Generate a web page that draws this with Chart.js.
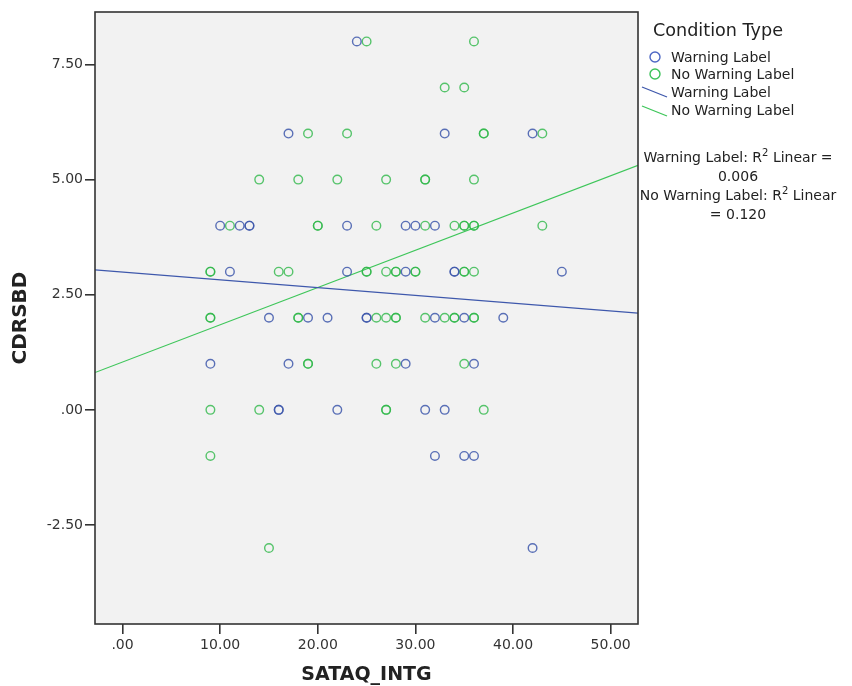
<!DOCTYPE html>
<html>
<head>
<meta charset="utf-8">
<script src="https://cdn.jsdelivr.net/npm/chart.js@4"></script>
<style>
  body { margin: 0; background: #fff; }
  #wrap { position: relative; width: 852px; height: 686px; font-family: "DejaVu Sans", sans-serif; color: #222; }
  .lg { position: absolute; white-space: nowrap; font-size: 14px; line-height: 16px; }
  .r2 { position: absolute; left: 618px; width: 240px; text-align: center; font-size: 14px; line-height: 19px; white-space: nowrap; }
  .r2 sup { font-size: 10px; line-height: 0; }
</style>
</head>
<body>
<div id="wrap">
  <canvas id="scatterChart" width="852" height="686"></canvas>

  <div class="lg" style="left:653px; top:20px; font-size:17.6px; line-height:20px;">Condition Type</div>
  <svg style="position:absolute; left:640px; top:48px;" width="30" height="76">
    <circle cx="15" cy="9" r="5" fill="none" stroke="#4d67c4" stroke-width="1.4"/>
    <circle cx="15" cy="26" r="5" fill="none" stroke="#3dc25a" stroke-width="1.4"/>
    <line x1="2" y1="39" x2="27" y2="49" stroke="#3e58ac" stroke-width="1.2"/>
    <line x1="2" y1="58" x2="27" y2="68" stroke="#3ec65a" stroke-width="1.2"/>
  </svg>
  <div class="lg" style="left:671px; top:49px;">Warning Label</div>
  <div class="lg" style="left:671px; top:66px;">No Warning Label</div>
  <div class="lg" style="left:671px; top:84px;">Warning Label</div>
  <div class="lg" style="left:671px; top:102px;">No Warning Label</div>

  <div class="r2" style="top:148px;">Warning Label: R<sup>2</sup> Linear =</div>
  <div class="r2" style="top:167px;">0.006</div>
  <div class="r2" style="top:186px;">No Warning Label: R<sup>2</sup> Linear</div>
  <div class="r2" style="top:205px;">= 0.120</div>
</div>

<script>
// Dữ liệu: Warning Label (xanh dương)
const warnX = [24, 17, 33, 42, 10, 12, 13, 13, 23, 29, 30, 32,
  11, 23, 29, 34, 34, 45, 15, 19, 21, 25, 25, 32, 35, 39,
  9, 17, 29, 36, 16, 16, 22, 31, 33, 32, 35, 36, 42];
const warnY = [8, 6, 6, 6, 4, 4, 4, 4, 4, 4, 4, 4,
  3, 3, 3, 3, 3, 3, 2, 2, 2, 2, 2, 2, 2, 2,
  1, 1, 1, 1, 0, 0, 0, 0, 0, -1, -1, -1, -3];

// Dữ liệu: No Warning Label (xanh lá)
const noWarnX = [25, 36, 33, 35, 19, 23, 37, 37, 43,
  14, 18, 22, 27, 31, 31, 36,
  11, 20, 20, 26, 31, 34, 35, 35, 36, 36, 43,
  9, 9, 16, 17, 25, 25, 27, 28, 28, 30, 30, 35, 35, 36,
  9, 9, 18, 18, 26, 27, 28, 28, 31, 33, 34, 34, 36, 36,
  19, 19, 26, 28, 35, 9, 14, 27, 27, 37, 9, 15];
const noWarnY = [8, 8, 7, 7, 6, 6, 6, 6, 6,
  5, 5, 5, 5, 5, 5, 5,
  4, 4, 4, 4, 4, 4, 4, 4, 4, 4, 4,
  3, 3, 3, 3, 3, 3, 3, 3, 3, 3, 3, 3, 3, 3,
  2, 2, 2, 2, 2, 2, 2, 2, 2, 2, 2, 2, 2, 2,
  1, 1, 1, 1, 1, 0, 0, 0, 0, 0, -1, -3];

// Đường hồi quy (hai đầu mút)
const fitX = [-2.82, 52.8];
const warnFitY = [3.04, 2.10];
const noWarnFitY = [0.81, 5.31];

// Nhãn trục
const xTicks = [0, 10, 20, 30, 40, 50];
const yTicks = [-2.5, 0, 2.5, 5, 7.5];

function toPoints(xs, ys) {
  return xs.map((x, i) => ({ x: x, y: ys[i] }));
}

// Format kiểu SPSS: 0 -> ".00"
function spssLabel(v) {
  const s = Number(v).toFixed(2);
  if (s === '0.00') return '.00';
  return s;
}

const plotFrame = {
  id: 'plotFrame',
  beforeDatasetsDraw(chart) {
    const a = chart.chartArea;
    const ctx = chart.ctx;
    ctx.save();
    ctx.fillStyle = '#f2f2f2';
    ctx.fillRect(a.left, a.top, a.right - a.left, a.bottom - a.top);
    ctx.restore();
  },
  afterDraw(chart) {
    const a = chart.chartArea;
    const ctx = chart.ctx;
    ctx.save();
    ctx.strokeStyle = '#333';
    ctx.lineWidth = 1.6;
    ctx.strokeRect(a.left, a.top, a.right - a.left, a.bottom - a.top);
    ctx.restore();
  }
};

const tickFont = { family: 'DejaVu Sans', size: 14 };

new Chart(document.getElementById('scatterChart').getContext('2d'), {
  type: 'scatter',
  data: {
    datasets: [
      {
        label: 'Warning Label',
        data: toPoints(warnX, warnY),
        borderColor: 'rgba(62, 88, 172, 0.85)',
        backgroundColor: 'transparent',
        pointRadius: 4.3,
        borderWidth: 1.4
      },
      {
        label: 'No Warning Label',
        data: toPoints(noWarnX, noWarnY),
        borderColor: 'rgba(46, 184, 72, 0.8)',
        backgroundColor: 'transparent',
        pointRadius: 4.3,
        borderWidth: 1.4
      },
      {
        type: 'line',
        label: 'Warning Label fit',
        data: toPoints(fitX, warnFitY),
        borderColor: '#3e58ac',
        borderWidth: 1.1,
        pointRadius: 0
      },
      {
        type: 'line',
        label: 'No Warning Label fit',
        data: toPoints(fitX, noWarnFitY),
        borderColor: '#3ec65a',
        borderWidth: 1.1,
        pointRadius: 0
      }
    ]
  },
  options: {
    responsive: false,
    devicePixelRatio: 1,
    animation: false,
    layout: { padding: { top: 12, right: 214, left: 0, bottom: 0 } },
    plugins: {
      legend: { display: false },
      tooltip: { enabled: false }
    },
    scales: {
      x: {
        type: 'linear',
        min: -2.82,
        max: 52.8,
        afterFit: s => { s.height = 62; },
        afterBuildTicks: s => { s.ticks = xTicks.map(v => ({ value: v })); },
        border: { display: false },
        grid: { drawOnChartArea: false, drawTicks: true, tickLength: 10, color: '#333', lineWidth: 1.6 },
        ticks: { font: tickFont, color: '#333', padding: 3, maxRotation: 0, callback: v => spssLabel(v) },
        title: { display: true, text: 'SATAQ_INTG', color: '#222', font: { family: 'DejaVu Sans', size: 19, weight: 'bold' }, padding: { top: 0, bottom: 0 } }
      },
      y: {
        type: 'linear',
        min: -4.65,
        max: 8.64,
        afterFit: s => { s.width = 95; },
        afterBuildTicks: s => { s.ticks = yTicks.map(v => ({ value: v })); },
        border: { display: false },
        grid: { drawOnChartArea: false, drawTicks: true, tickLength: 10, color: '#333', lineWidth: 1.6 },
        ticks: { font: tickFont, color: '#333', padding: 2, callback: v => spssLabel(v) },
        title: { display: true, text: 'CDRSBD', color: '#222', font: { family: 'DejaVu Sans', size: 20, weight: 'bold' }, padding: { top: 9, bottom: 0 } }
      }
    }
  },
  plugins: [plotFrame]
});
</script>
</body>
</html>
